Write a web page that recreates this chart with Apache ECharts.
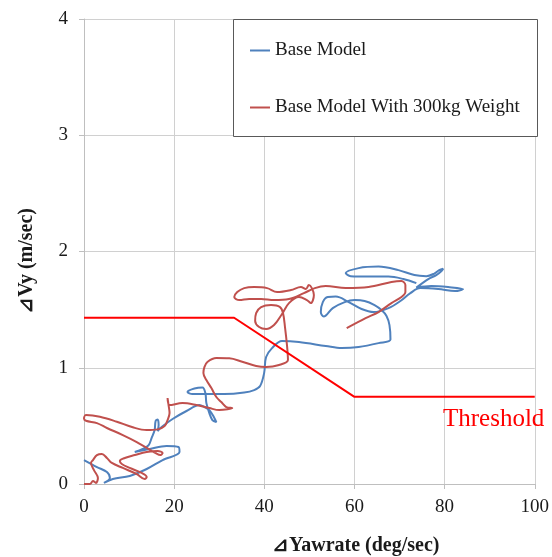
<!DOCTYPE html>
<html>
<head>
<meta charset="utf-8">
<script src="https://cdn.jsdelivr.net/npm/echarts@6/dist/echarts.min.js"></script>
<style>html,body{margin:0;padding:0;background:#fff;}#c{width:552px;height:557px;}</style>
</head>
<body>
<div id="c"></div>
<script>
// x ticks / y ticks
const xTicks = [0, 20, 40, 60, 80, 100];
const yTicks = [0, 1, 2, 3, 4];
const seriesNames = ['Base Model', 'Base Model With 300kg Weight'];

// Base Model: [Yawrate, Vy]
const baseModel = [
[0.0,0.206],[2.87,0.146],[5.08,0.103],[5.74,0.052],[4.42,0.009],[6.40,0.043],[10.15,0.069],[13.91,0.129],[17.44,0.206],[21.19,0.275],[20.97,0.318],[18.32,0.327],[14.57,0.301],[11.26,0.275],[13.02,0.301],[14.35,0.335],[15.01,0.396],[15.67,0.464],[15.89,0.542],[16.34,0.555],[16.56,0.507],[16.34,0.456],[17.22,0.490],[19.65,0.559],[22.74,0.628],[25.61,0.679],[26.71,0.662],[27.81,0.636],[28.92,0.568],[29.36,0.533],[28.48,0.550],[27.81,0.610],[27.15,0.696],[26.93,0.782],[26.27,0.830],[24.50,0.821],[22.96,0.791],[24.06,0.774],[27.37,0.774],[31.13,0.774],[35.54,0.787],[37.75,0.808],[39.07,0.843],[39.96,0.954],[40.40,1.092],[41.72,1.169],[43.93,1.230],[47.68,1.221],[53.64,1.187],[57.17,1.169],[60.93,1.178],[65.34,1.212],[67.99,1.242],[67.77,1.367],[67.11,1.445],[66.00,1.496],[64.46,1.539],[62.25,1.574],[60.04,1.582],[57.84,1.565],[55.19,1.513],[53.20,1.440],[52.54,1.479],[52.98,1.565],[54.08,1.608],[55.85,1.612],[58.72,1.565],[61.59,1.505],[64.24,1.479],[67.55,1.513],[70.20,1.574],[72.41,1.642],[74.61,1.685],[78.59,1.677],[82.34,1.660],[84.11,1.677],[80.79,1.694],[77.04,1.703],[73.73,1.690],[76.38,1.763],[78.15,1.797],[79.25,1.831],[79.69,1.853],[78.81,1.840],[77.70,1.810],[75.94,1.788],[73.29,1.797],[69.76,1.840],[65.34,1.870],[60.93,1.857],[58.06,1.814],[59.16,1.788],[63.13,1.784],[67.55,1.784],[70.86,1.763],[73.73,1.728]
];

// Base Model With 300kg Weight: [Yawrate, Vy]
const weightedModel = [
[0,0],[1.32,0],[1.99,0.026],[2.65,0.009],[3.09,0.052],[2.21,0.120],[1.55,0.181],[1.99,0.206],[2.87,0.249],[3.97,0.258],[5.08,0.224],[6.18,0.181],[8.61,0.138],[11.70,0.086],[13.47,0.043],[13.91,0.060],[12.80,0.095],[10.15,0.138],[8.39,0.172],[7.95,0.198],[9.05,0.224],[11.26,0.249],[13.91,0.275],[16.34,0.284],[17.44,0.267],[17.00,0.249],[15.67,0.271],[13.91,0.310],[11.70,0.361],[8.61,0.421],[5.08,0.482],[2.87,0.524],[0.44,0.544],[0,0.563],[0.44,0.593],[3.53,0.579],[7.28,0.536],[10.82,0.488],[13.91,0.464],[16.34,0.470],[17.88,0.499],[18.54,0.550],[18.98,0.610],[18.76,0.679],[18.54,0.739],[18.98,0.679],[21.85,0.696],[24.94,0.679],[27.81,0.653],[30.02,0.636],[32.89,0.653],[31.57,0.662],[30.46,0.705],[29.36,0.748],[28.26,0.825],[27.15,0.894],[26.49,0.954],[26.71,1.006],[27.37,1.049],[29.36,1.083],[32.23,1.081],[35.10,1.052],[38.19,1.015],[40.40,1.006],[43.27,1.023],[45.25,1.066],[45.03,1.195],[44.59,1.350],[44.15,1.470],[43.49,1.522],[41.50,1.539],[39.29,1.522],[38.19,1.470],[37.97,1.402],[38.85,1.350],[40.40,1.333],[42.16,1.367],[43.93,1.462],[45.47,1.556],[47.68,1.608],[49.45,1.582],[50.33,1.556],[51.00,1.625],[50.55,1.685],[49.89,1.711],[49.23,1.677],[48.12,1.694],[45.92,1.668],[42.83,1.651],[40.62,1.685],[37.75,1.694],[35.54,1.685],[34.00,1.651],[33.33,1.608],[34.44,1.582],[36.64,1.591],[39.29,1.591],[42.16,1.582],[45.47,1.591],[48.79,1.642],[51.21,1.685],[53.64,1.703],[58.06,1.685],[63.13,1.694],[68.21,1.737],[70.42,1.746],[71.30,1.711],[71.30,1.651],[70.42,1.608],[68.21,1.556],[65.34,1.479],[62.47,1.427],[58.28,1.341]
];

// Threshold polyline
const thresholdX = [0, 33.3, 60, 100];
const thresholdY = [1.43, 1.43, 0.75, 0.75];
const thresholdLabel = 'Threshold';
const xTitle = '⊿Yawrate (deg/sec)';
const yTitle = '⊿Vy (m/sec)';

const FONT = '"Liberation Serif", "Times New Roman", serif';
const chart = echarts.init(document.getElementById('c'), null, {renderer: 'canvas'});
const thresholdData = thresholdX.map((x, i) => [x, thresholdY[i]]);

chart.setOption({
  animation: false,
  backgroundColor: '#ffffff',
  grid: {left: 84, right: 15, top: 19, bottom: 73},
  xAxis: {
    type: 'value', min: xTicks[0], max: xTicks[xTicks.length - 1], interval: 20,
    axisLine: {show: true, lineStyle: {color: '#BFBFBF', width: 1}},
    axisTick: {show: true, length: 5, lineStyle: {color: '#BFBFBF'}},
    splitLine: {show: true, lineStyle: {color: '#D0D0D0', width: 1}},
    axisLabel: {fontFamily: FONT, fontSize: 19, color: '#1a1a1a', margin: 14}
  },
  yAxis: {
    type: 'value', min: yTicks[0], max: yTicks[yTicks.length - 1], interval: 1,
    axisLine: {show: true, lineStyle: {color: '#BFBFBF', width: 1}},
    axisTick: {show: true, length: 5, lineStyle: {color: '#BFBFBF'}},
    splitLine: {show: true, lineStyle: {color: '#D0D0D0', width: 1}},
    axisLabel: {fontFamily: FONT, fontSize: 19, color: '#1a1a1a', margin: 16}
  },
  legend: {
    data: seriesNames, z: 30,
    orient: 'vertical', left: 245, top: 36, itemGap: 38,
    icon: 'rect', itemWidth: 20, itemHeight: 2,
    textStyle: {fontFamily: FONT, fontSize: 19, color: '#1a1a1a'}
  },
  graphic: [
    {type: 'rect', left: 233, top: 19, z: 5,
     shape: {width: 304, height: 117}, style: {fill: '#ffffff', stroke: '#595959', lineWidth: 1}},
    {type: 'text', left: 443, top: 407, z: 20,
     style: {text: thresholdLabel, font: '25px ' + FONT, fill: '#FF0000'}},
    {type: 'text', left: 272, top: 536, z: 20,
     style: {text: xTitle, font: 'bold 20px ' + FONT, fill: '#1a1a1a'}},
    {type: 'text', left: 17, top: 208, z: 20, rotation: Math.PI / 2,
     style: {text: yTitle, font: 'bold 20px ' + FONT, fill: '#1a1a1a'}}
  ],
  series: [
    {name: seriesNames[0], type: 'line', data: baseModel, symbol: 'none', smooth: 0.35,
     lineStyle: {color: '#4F81BD', width: 2}, itemStyle: {color: '#4F81BD'}, z: 3},
    {name: seriesNames[1], type: 'line', data: weightedModel, symbol: 'none', smooth: 0.35,
     lineStyle: {color: '#C0504D', width: 2}, itemStyle: {color: '#C0504D'}, z: 4},
    {name: 'threshold', type: 'line', data: thresholdData, symbol: 'none',
     lineStyle: {color: '#FF0000', width: 2}, z: 5}
  ]
});
</script>
</body>
</html>
